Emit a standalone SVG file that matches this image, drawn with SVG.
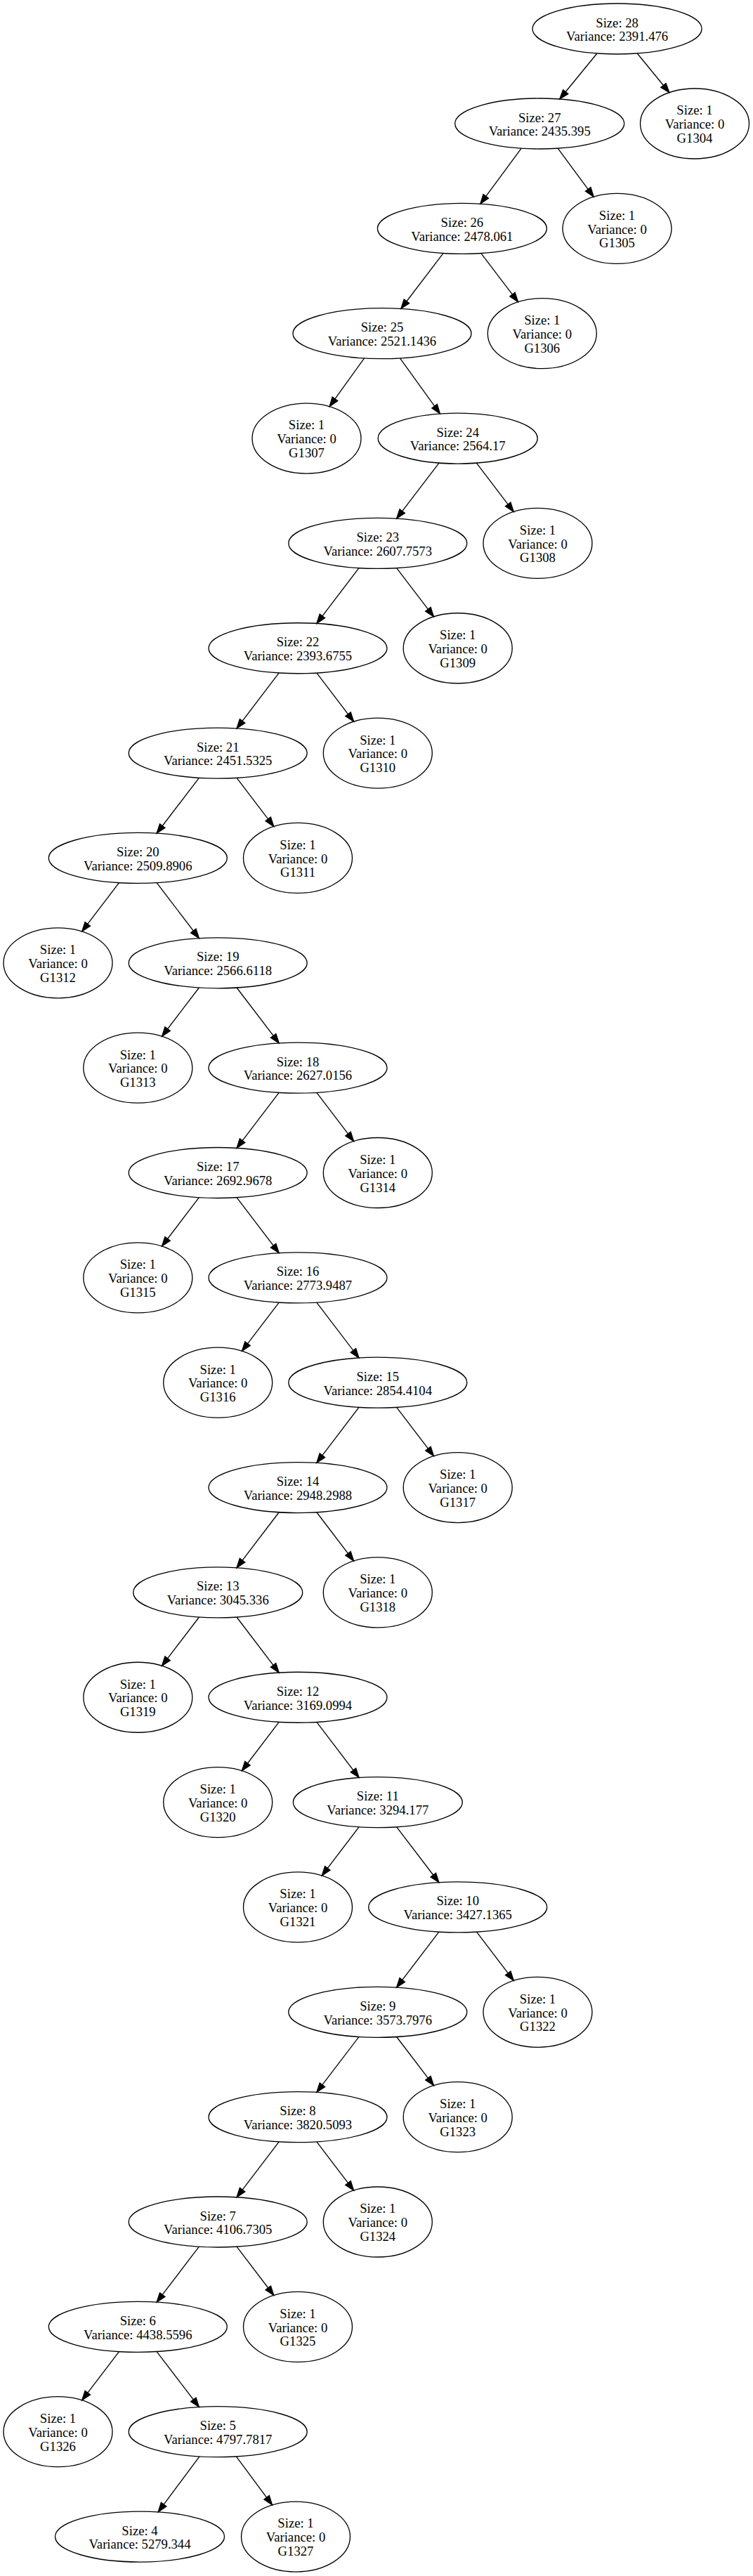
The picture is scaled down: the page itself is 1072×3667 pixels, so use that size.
<svg xmlns="http://www.w3.org/2000/svg" width="1072" height="3667" viewBox="0 0 1072 3667">
<style>
.n ellipse{fill:none;stroke:#000;stroke-width:1.33}
.n text{font-family:"Liberation Serif","Times New Roman",serif;font-size:18.67px;text-anchor:middle;fill:#000}
.e line{stroke:#000;stroke-width:1.33;marker-end:url(#ah)}
</style>
<defs>
<marker id="ah" markerUnits="userSpaceOnUse" markerWidth="16" markerHeight="12" refX="13.33" refY="4.67" orient="auto" overflow="visible">
<path d="M0,0 L13.33,4.67 L0,9.33 Z" fill="#000" stroke="#000" stroke-width="1.33"/>
</marker>
</defs>
<rect width="1072" height="3667" fill="#fff"/>
<g id="edges" class="e">
<line x1="850.0" y1="75.97" x2="796.8" y2="141.03"/>
<line x1="907.2" y1="75.97" x2="952.84" y2="131.78"/>
<line x1="742.24" y1="211.15" x2="683.86" y2="290.2"/>
<line x1="794.16" y1="211.15" x2="845.16" y2="280.21"/>
<line x1="631.13" y1="360.45" x2="570.84" y2="439.51"/>
<line x1="684.67" y1="360.45" x2="737.59" y2="429.84"/>
<line x1="518.61" y1="509.97" x2="469.14" y2="578.7"/>
<line x1="569.43" y1="509.97" x2="626.39" y2="588.96"/>
<line x1="625.01" y1="659.04" x2="564.64" y2="738.21"/>
<line x1="678.36" y1="659.04" x2="731.31" y2="728.54"/>
<line x1="510.98" y1="808.59" x2="450.82" y2="887.56"/>
<line x1="564.62" y1="808.59" x2="617.5" y2="877.88"/>
<line x1="397.18" y1="957.94" x2="337.02" y2="1036.91"/>
<line x1="450.82" y1="957.94" x2="503.6" y2="1027.23"/>
<line x1="283.38" y1="1107.29" x2="223.12" y2="1186.26"/>
<line x1="337.02" y1="1107.29" x2="389.8" y2="1176.58"/>
<line x1="169.48" y1="1256.64" x2="116.7" y2="1325.93"/>
<line x1="223.12" y1="1256.64" x2="283.38" y2="1335.61"/>
<line x1="283.38" y1="1405.99" x2="230.5" y2="1475.28"/>
<line x1="337.02" y1="1405.99" x2="397.18" y2="1484.96"/>
<line x1="397.18" y1="1555.34" x2="337.02" y2="1634.31"/>
<line x1="450.82" y1="1555.34" x2="503.6" y2="1624.63"/>
<line x1="283.38" y1="1704.69" x2="230.5" y2="1773.98"/>
<line x1="337.02" y1="1704.69" x2="397.18" y2="1783.66"/>
<line x1="397.18" y1="1854.04" x2="344.4" y2="1923.33"/>
<line x1="450.82" y1="1854.04" x2="510.98" y2="1933.01"/>
<line x1="510.98" y1="2003.39" x2="450.82" y2="2082.36"/>
<line x1="564.62" y1="2003.39" x2="617.5" y2="2072.68"/>
<line x1="397.18" y1="2152.74" x2="336.95" y2="2231.8"/>
<line x1="450.82" y1="2152.74" x2="503.6" y2="2222.03"/>
<line x1="283.45" y1="2302.0" x2="230.5" y2="2371.38"/>
<line x1="336.95" y1="2302.0" x2="397.18" y2="2381.06"/>
<line x1="397.18" y1="2451.44" x2="344.4" y2="2520.73"/>
<line x1="450.82" y1="2451.44" x2="511.05" y2="2530.5"/>
<line x1="511.05" y1="2600.7" x2="458.2" y2="2670.08"/>
<line x1="564.55" y1="2600.7" x2="624.88" y2="2679.76"/>
<line x1="624.88" y1="2750.14" x2="564.62" y2="2829.11"/>
<line x1="678.52" y1="2750.14" x2="731.3" y2="2819.43"/>
<line x1="510.98" y1="2899.49" x2="450.82" y2="2978.46"/>
<line x1="564.62" y1="2899.49" x2="617.5" y2="2968.78"/>
<line x1="397.18" y1="3048.84" x2="337.02" y2="3127.81"/>
<line x1="450.82" y1="3048.84" x2="503.6" y2="3118.13"/>
<line x1="283.38" y1="3198.19" x2="223.12" y2="3277.16"/>
<line x1="337.02" y1="3198.19" x2="389.8" y2="3267.48"/>
<line x1="169.48" y1="3347.54" x2="116.7" y2="3416.83"/>
<line x1="223.12" y1="3347.54" x2="283.38" y2="3426.51"/>
<line x1="283.97" y1="3496.92" x2="225.16" y2="3575.91"/>
<line x1="336.34" y1="3496.93" x2="387.54" y2="3565.95"/>
</g>
<g id="n28" class="n"><ellipse cx="878.6" cy="41" rx="120.5" ry="36"/><text x="878.6" y="38.5">Size: 28<tspan x="878.6" dy="19.8">Variance: 2391.476</tspan></text></g>
<g id="n27" class="n"><ellipse cx="768.2" cy="176" rx="120.5" ry="36"/><text x="768.2" y="173.5">Size: 27<tspan x="768.2" dy="19.8">Variance: 2435.395</tspan></text></g>
<g id="G1304" class="n"><ellipse cx="989" cy="176" rx="77.5" ry="50"/><text x="989" y="163.4">Size: 1<tspan x="989" dy="19.8">Variance: 0</tspan><tspan x="989" dy="19.8">G1304</tspan></text></g>
<g id="n26" class="n"><ellipse cx="657.9" cy="325.35" rx="120.5" ry="36"/><text x="657.9" y="322.85">Size: 26<tspan x="657.9" dy="19.8">Variance: 2478.061</tspan></text></g>
<g id="G1305" class="n"><ellipse cx="878.5" cy="325.35" rx="77.5" ry="50"/><text x="878.5" y="312.75">Size: 1<tspan x="878.5" dy="19.8">Variance: 0</tspan><tspan x="878.5" dy="19.8">G1305</tspan></text></g>
<g id="n25" class="n"><ellipse cx="544" cy="474.7" rx="127" ry="36"/><text x="544" y="472.2">Size: 25<tspan x="544" dy="19.8">Variance: 2521.1436</tspan></text></g>
<g id="G1306" class="n"><ellipse cx="771.8" cy="474.7" rx="77.5" ry="50"/><text x="771.8" y="462.1">Size: 1<tspan x="771.8" dy="19.8">Variance: 0</tspan><tspan x="771.8" dy="19.8">G1306</tspan></text></g>
<g id="G1307" class="n"><ellipse cx="436.5" cy="624.05" rx="77.5" ry="50"/><text x="436.5" y="611.45">Size: 1<tspan x="436.5" dy="19.8">Variance: 0</tspan><tspan x="436.5" dy="19.8">G1307</tspan></text></g>
<g id="n24" class="n"><ellipse cx="651.7" cy="624.05" rx="113.5" ry="36"/><text x="651.7" y="621.55">Size: 24<tspan x="651.7" dy="19.8">Variance: 2564.17</tspan></text></g>
<g id="n23" class="n"><ellipse cx="537.8" cy="773.4" rx="127" ry="36"/><text x="537.8" y="770.9">Size: 23<tspan x="537.8" dy="19.8">Variance: 2607.7573</tspan></text></g>
<g id="G1308" class="n"><ellipse cx="765.5" cy="773.4" rx="77.5" ry="50"/><text x="765.5" y="760.8">Size: 1<tspan x="765.5" dy="19.8">Variance: 0</tspan><tspan x="765.5" dy="19.8">G1308</tspan></text></g>
<g id="n22" class="n"><ellipse cx="424" cy="922.75" rx="127" ry="36"/><text x="424" y="920.25">Size: 22<tspan x="424" dy="19.8">Variance: 2393.6755</tspan></text></g>
<g id="G1309" class="n"><ellipse cx="651.7" cy="922.75" rx="77.5" ry="50"/><text x="651.7" y="910.15">Size: 1<tspan x="651.7" dy="19.8">Variance: 0</tspan><tspan x="651.7" dy="19.8">G1309</tspan></text></g>
<g id="n21" class="n"><ellipse cx="310.2" cy="1072.1" rx="127" ry="36"/><text x="310.2" y="1069.6">Size: 21<tspan x="310.2" dy="19.8">Variance: 2451.5325</tspan></text></g>
<g id="G1310" class="n"><ellipse cx="537.8" cy="1072.1" rx="77.5" ry="50"/><text x="537.8" y="1059.5">Size: 1<tspan x="537.8" dy="19.8">Variance: 0</tspan><tspan x="537.8" dy="19.8">G1310</tspan></text></g>
<g id="n20" class="n"><ellipse cx="196.3" cy="1221.45" rx="127" ry="36"/><text x="196.3" y="1218.95">Size: 20<tspan x="196.3" dy="19.8">Variance: 2509.8906</tspan></text></g>
<g id="G1311" class="n"><ellipse cx="424" cy="1221.45" rx="77.5" ry="50"/><text x="424" y="1208.85">Size: 1<tspan x="424" dy="19.8">Variance: 0</tspan><tspan x="424" dy="19.8">G1311</tspan></text></g>
<g id="G1312" class="n"><ellipse cx="82.5" cy="1370.8" rx="77.5" ry="50"/><text x="82.5" y="1358.2">Size: 1<tspan x="82.5" dy="19.8">Variance: 0</tspan><tspan x="82.5" dy="19.8">G1312</tspan></text></g>
<g id="n19" class="n"><ellipse cx="310.2" cy="1370.8" rx="127" ry="36"/><text x="310.2" y="1368.3">Size: 19<tspan x="310.2" dy="19.8">Variance: 2566.6118</tspan></text></g>
<g id="G1313" class="n"><ellipse cx="196.3" cy="1520.15" rx="77.5" ry="50"/><text x="196.3" y="1507.55">Size: 1<tspan x="196.3" dy="19.8">Variance: 0</tspan><tspan x="196.3" dy="19.8">G1313</tspan></text></g>
<g id="n18" class="n"><ellipse cx="424" cy="1520.15" rx="127" ry="36"/><text x="424" y="1517.65">Size: 18<tspan x="424" dy="19.8">Variance: 2627.0156</tspan></text></g>
<g id="n17" class="n"><ellipse cx="310.2" cy="1669.5" rx="127" ry="36"/><text x="310.2" y="1667">Size: 17<tspan x="310.2" dy="19.8">Variance: 2692.9678</tspan></text></g>
<g id="G1314" class="n"><ellipse cx="537.8" cy="1669.5" rx="77.5" ry="50"/><text x="537.8" y="1656.9">Size: 1<tspan x="537.8" dy="19.8">Variance: 0</tspan><tspan x="537.8" dy="19.8">G1314</tspan></text></g>
<g id="G1315" class="n"><ellipse cx="196.3" cy="1818.85" rx="77.5" ry="50"/><text x="196.3" y="1806.25">Size: 1<tspan x="196.3" dy="19.8">Variance: 0</tspan><tspan x="196.3" dy="19.8">G1315</tspan></text></g>
<g id="n16" class="n"><ellipse cx="424" cy="1818.85" rx="127" ry="36"/><text x="424" y="1816.35">Size: 16<tspan x="424" dy="19.8">Variance: 2773.9487</tspan></text></g>
<g id="G1316" class="n"><ellipse cx="310.2" cy="1968.2" rx="77.5" ry="50"/><text x="310.2" y="1955.6">Size: 1<tspan x="310.2" dy="19.8">Variance: 0</tspan><tspan x="310.2" dy="19.8">G1316</tspan></text></g>
<g id="n15" class="n"><ellipse cx="537.8" cy="1968.2" rx="127" ry="36"/><text x="537.8" y="1965.7">Size: 15<tspan x="537.8" dy="19.8">Variance: 2854.4104</tspan></text></g>
<g id="n14" class="n"><ellipse cx="424" cy="2117.55" rx="127" ry="36"/><text x="424" y="2115.05">Size: 14<tspan x="424" dy="19.8">Variance: 2948.2988</tspan></text></g>
<g id="G1317" class="n"><ellipse cx="651.7" cy="2117.55" rx="77.5" ry="50"/><text x="651.7" y="2104.95">Size: 1<tspan x="651.7" dy="19.8">Variance: 0</tspan><tspan x="651.7" dy="19.8">G1317</tspan></text></g>
<g id="n13" class="n"><ellipse cx="310.2" cy="2266.9" rx="120.5" ry="36"/><text x="310.2" y="2264.4">Size: 13<tspan x="310.2" dy="19.8">Variance: 3045.336</tspan></text></g>
<g id="G1318" class="n"><ellipse cx="537.8" cy="2266.9" rx="77.5" ry="50"/><text x="537.8" y="2254.3">Size: 1<tspan x="537.8" dy="19.8">Variance: 0</tspan><tspan x="537.8" dy="19.8">G1318</tspan></text></g>
<g id="G1319" class="n"><ellipse cx="196.3" cy="2416.25" rx="77.5" ry="50"/><text x="196.3" y="2403.65">Size: 1<tspan x="196.3" dy="19.8">Variance: 0</tspan><tspan x="196.3" dy="19.8">G1319</tspan></text></g>
<g id="n12" class="n"><ellipse cx="424" cy="2416.25" rx="127" ry="36"/><text x="424" y="2413.75">Size: 12<tspan x="424" dy="19.8">Variance: 3169.0994</tspan></text></g>
<g id="G1320" class="n"><ellipse cx="310.2" cy="2565.6" rx="77.5" ry="50"/><text x="310.2" y="2553">Size: 1<tspan x="310.2" dy="19.8">Variance: 0</tspan><tspan x="310.2" dy="19.8">G1320</tspan></text></g>
<g id="n11" class="n"><ellipse cx="537.8" cy="2565.6" rx="120.5" ry="36"/><text x="537.8" y="2563.1">Size: 11<tspan x="537.8" dy="19.8">Variance: 3294.177</tspan></text></g>
<g id="G1321" class="n"><ellipse cx="424" cy="2714.95" rx="77.5" ry="50"/><text x="424" y="2702.35">Size: 1<tspan x="424" dy="19.8">Variance: 0</tspan><tspan x="424" dy="19.8">G1321</tspan></text></g>
<g id="n10" class="n"><ellipse cx="651.7" cy="2714.95" rx="127" ry="36"/><text x="651.7" y="2712.45">Size: 10<tspan x="651.7" dy="19.8">Variance: 3427.1365</tspan></text></g>
<g id="n9" class="n"><ellipse cx="537.8" cy="2864.3" rx="127" ry="36"/><text x="537.8" y="2861.8">Size: 9<tspan x="537.8" dy="19.8">Variance: 3573.7976</tspan></text></g>
<g id="G1322" class="n"><ellipse cx="765.5" cy="2864.3" rx="77.5" ry="50"/><text x="765.5" y="2851.7">Size: 1<tspan x="765.5" dy="19.8">Variance: 0</tspan><tspan x="765.5" dy="19.8">G1322</tspan></text></g>
<g id="n8" class="n"><ellipse cx="424" cy="3013.65" rx="127" ry="36"/><text x="424" y="3011.15">Size: 8<tspan x="424" dy="19.8">Variance: 3820.5093</tspan></text></g>
<g id="G1323" class="n"><ellipse cx="651.7" cy="3013.65" rx="77.5" ry="50"/><text x="651.7" y="3001.05">Size: 1<tspan x="651.7" dy="19.8">Variance: 0</tspan><tspan x="651.7" dy="19.8">G1323</tspan></text></g>
<g id="n7" class="n"><ellipse cx="310.2" cy="3163" rx="127" ry="36"/><text x="310.2" y="3160.5">Size: 7<tspan x="310.2" dy="19.8">Variance: 4106.7305</tspan></text></g>
<g id="G1324" class="n"><ellipse cx="537.8" cy="3163" rx="77.5" ry="50"/><text x="537.8" y="3150.4">Size: 1<tspan x="537.8" dy="19.8">Variance: 0</tspan><tspan x="537.8" dy="19.8">G1324</tspan></text></g>
<g id="n6" class="n"><ellipse cx="196.3" cy="3312.35" rx="127" ry="36"/><text x="196.3" y="3309.85">Size: 6<tspan x="196.3" dy="19.8">Variance: 4438.5596</tspan></text></g>
<g id="G1325" class="n"><ellipse cx="424" cy="3312.35" rx="77.5" ry="50"/><text x="424" y="3299.75">Size: 1<tspan x="424" dy="19.8">Variance: 0</tspan><tspan x="424" dy="19.8">G1325</tspan></text></g>
<g id="G1326" class="n"><ellipse cx="82.5" cy="3461.7" rx="77.5" ry="50"/><text x="82.5" y="3449.1">Size: 1<tspan x="82.5" dy="19.8">Variance: 0</tspan><tspan x="82.5" dy="19.8">G1326</tspan></text></g>
<g id="n5" class="n"><ellipse cx="310.2" cy="3461.7" rx="127" ry="36"/><text x="310.2" y="3459.2">Size: 5<tspan x="310.2" dy="19.8">Variance: 4797.7817</tspan></text></g>
<g id="n4" class="n"><ellipse cx="199" cy="3611.05" rx="120.5" ry="36"/><text x="199" y="3608.55">Size: 4<tspan x="199" dy="19.8">Variance: 5279.344</tspan></text></g>
<g id="G1327" class="n"><ellipse cx="421" cy="3611.05" rx="77.5" ry="50"/><text x="421" y="3598.45">Size: 1<tspan x="421" dy="19.8">Variance: 0</tspan><tspan x="421" dy="19.8">G1327</tspan></text></g>
</svg>
